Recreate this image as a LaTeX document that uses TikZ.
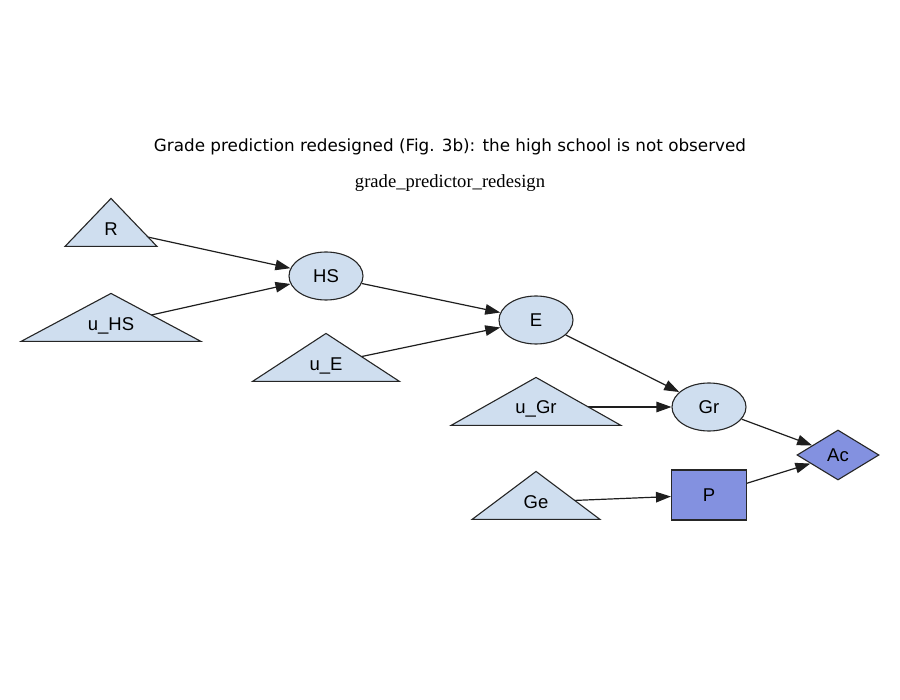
\documentclass[tikz,border=0pt]{standalone}
\usepackage{fontspec}
\setmainfont{Liberation Sans}
\newfontfamily\titlefont{DejaVu Sans}
\newfontfamily\seriffont{Liberation Serif}
\usetikzlibrary{shapes.geometric,arrows.meta}
\pgfdeclarelayer{edgelayer}
\pgfsetlayers{edgelayer,main}
\definecolor{lightfill}{RGB}{207,222,239}
\definecolor{darkfill}{RGB}{131,145,224}
\definecolor{edgecol}{RGB}{30,30,30}
\newcommand{\zlabel}[1]{\makebox[0pt]{\smash{\raisebox{-6.6pt}{#1}}}}
\begin{document}
\begin{tikzpicture}[x=1pt,y=-1pt,
  base/.style={draw=black!85,line width=1.1pt,inner sep=0pt,font=\fontsize{18.5}{18.5}\selectfont},
  tri/.style={base,fill=lightfill,shape=isosceles triangle,shape border rotate=90,
     isosceles triangle stretches,minimum height=48pt,anchor=apex},
  trilabel/.style={inner sep=0pt,font=\fontsize{18.5}{18.5}\selectfont},
  ell/.style={base,fill=lightfill,ellipse,minimum width=74pt,minimum height=48pt},
  rect/.style={base,fill=darkfill,rectangle,minimum width=75pt,minimum height=50pt},
  dia/.style={base,fill=darkfill,diamond,minimum width=82pt,minimum height=50pt},
  conn/.style={draw=edgecol,line width=1.2pt,-{Triangle[length=15pt,width=10.5pt]}}]
\useasboundingbox (0,0) rectangle (900,700);
\node[font=\titlefont\fontsize{16.8}{18}\selectfont] (title) at (450,147) {Grade prediction redesigned (Fig. 3b): the high school is not observed};
\node[font=\seriffont\fontsize{18.6}{20}\selectfont] (sub) at (450,183) {grade\_predictor\_redesign};
% triangles (exogenous nodes)
\node[tri,minimum width=92pt] (R) at (111,197) {};
\node[trilabel] (Rl) at (111,229) {\zlabel{R}};
\node[tri,minimum width=180pt] (uHS) at (111,292) {};
\node[trilabel] (uHSl) at (111,324) {\zlabel{u\_HS}};
\node[tri,minimum width=147pt] (uE) at (326,332) {};
\node[trilabel] (uEl) at (326,364) {\zlabel{u\_E}};
\node[tri,minimum width=170pt] (uGr) at (536,376) {};
\node[trilabel] (uGrl) at (536,407) {\zlabel{u\_Gr}};
\node[tri,minimum width=128pt] (Ge) at (536,470) {};
\node[trilabel] (Gel) at (536,502) {\zlabel{Ge}};
% other nodes
\node[ell] (HS) at (326,276) {HS};
\node[ell] (E) at (536,320) {E};
\node[ell] (Gr) at (709,407) {Gr};
\node[rect] (P) at (709,495) {P};
\node[dia] (Ac) at (838,455) {Ac};
\begin{pgfonlayer}{edgelayer}
\draw[conn] (Rl.center) -- (HS);
\draw[conn] (uHSl.center) -- (HS);
\draw[conn] (HS) -- (E);
\draw[conn] (uEl.center) -- (E);
\draw[conn] (E) -- (Gr);
\draw[conn] (uGrl.center) -- (Gr);
\draw[conn] (Gr) -- (Ac);
\draw[conn] (Gel.center) -- (P);
\draw[conn] (P) -- (Ac);
\end{pgfonlayer}
\end{tikzpicture}
\end{document}
